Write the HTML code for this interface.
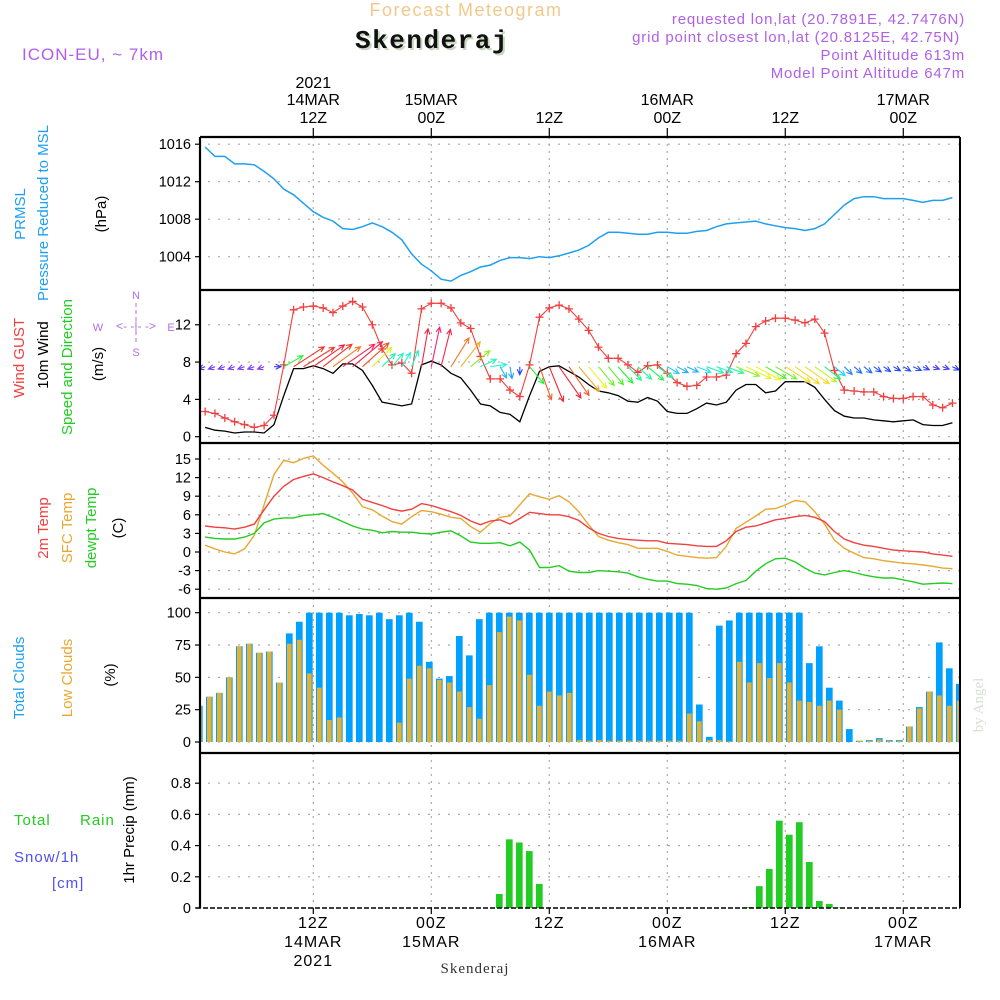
<!DOCTYPE html>
<html><head><meta charset="utf-8"><title>Forecast Meteogram Skenderaj</title>
<style>
html,body{margin:0;padding:0;background:#fff;}
svg{display:block;font-family:"Liberation Sans",sans-serif;}
</style></head>
<body>
<svg id="chart" width="1000" height="1000" viewBox="0 0 1000 1000" xmlns="http://www.w3.org/2000/svg">
<defs>
<clipPath id="plotclip"><rect x="201" y="137" width="758" height="773"/></clipPath>
</defs>
<text x="466" y="16" text-anchor="middle" font-size="18" fill="#f2c98a" letter-spacing="1.5">Forecast Meteogram</text>
<text x="434" y="50" text-anchor="middle" font-size="26" font-weight="bold" font-family="Liberation Mono, monospace" letter-spacing="1.5" fill="#c8d8c0">Skenderaj</text>
<text x="432" y="48" text-anchor="middle" font-size="26" font-weight="bold" font-family="Liberation Mono, monospace" letter-spacing="1.5" fill="#111">Skenderaj</text>
<text x="22" y="60" font-size="17" fill="#b060e8" letter-spacing="1">ICON-EU, ~ 7km</text>
<g font-size="15" fill="#b060e8" text-anchor="end" letter-spacing="0.8">
<text x="965" y="24">requested lon,lat (20.7891E, 42.7476N)</text>
<text x="960" y="42">grid point closest lon,lat (20.8125E, 42.75N)</text>
<text x="965" y="60">Point Altitude 613m</text>
<text x="965" y="78">Model Point Altitude 647m</text>
</g>
<g font-size="15">
<text transform="translate(25,214) rotate(-90)" text-anchor="middle" fill="#1ea0f0">PRMSL</text>
<text transform="translate(48,213) rotate(-90)" text-anchor="middle" fill="#1ea0f0">Pressure Reduced to MSL</text>
<text transform="translate(106,214) rotate(-90)" text-anchor="middle" fill="#000">(hPa)</text>
<text transform="translate(24,358) rotate(-90)" text-anchor="middle" fill="#f04040">Wind GUST</text>
<text transform="translate(48,355) rotate(-90)" text-anchor="middle" fill="#000">10m Wind</text>
<text transform="translate(72,367) rotate(-90)" text-anchor="middle" fill="#22cc22">Speed and Direction</text>
<text transform="translate(103,364) rotate(-90)" text-anchor="middle" fill="#000">(m/s)</text>
<text transform="translate(48,528) rotate(-90)" text-anchor="middle" fill="#f04040">2m Temp</text>
<text transform="translate(72,528) rotate(-90)" text-anchor="middle" fill="#e8a830">SFC Temp</text>
<text transform="translate(96,528) rotate(-90)" text-anchor="middle" fill="#22cc22">dewpt Temp</text>
<text transform="translate(123,528) rotate(-90)" text-anchor="middle" fill="#000">(C)</text>
<text transform="translate(24,678) rotate(-90)" text-anchor="middle" fill="#1ea0f0">Total Clouds</text>
<text transform="translate(72,678) rotate(-90)" text-anchor="middle" fill="#e8a830">Low Clouds</text>
<text transform="translate(115,675) rotate(-90)" text-anchor="middle" fill="#000">(%)</text>
<text transform="translate(134,830) rotate(-90)" text-anchor="middle" fill="#000">1hr Precip (mm)</text>
<text x="14" y="825" fill="#22cc22" letter-spacing="1">Total</text>
<text x="80" y="825" fill="#22cc22" letter-spacing="1">Rain</text>
<text x="14" y="862" fill="#5050f0" letter-spacing="1">Snow/1h</text>
<text x="52" y="888" fill="#5050f0" letter-spacing="1">[cm]</text>
</g>
<g fill="#b070e0" stroke="none" font-size="11">
<text x="136" y="299" text-anchor="middle">N</text>
<text x="136" y="356" text-anchor="middle">S</text>
<text x="98" y="331" text-anchor="middle">W</text>
<text x="171" y="331" text-anchor="middle">E</text>
<text x="136" y="330" text-anchor="middle" font-size="12">&lt;- -|- -&gt;</text>
<line x1="136" y1="303" x2="136" y2="345" stroke="#b070e0" stroke-dasharray="4,3"/>
</g>
<text transform="translate(983,705) rotate(-90)" text-anchor="middle" font-size="15" font-family="Liberation Serif, serif" fill="#d8e0d4">by Angel</text>
<text x="475" y="973" text-anchor="middle" font-size="15" font-family="Liberation Serif, serif" fill="#333" letter-spacing="1">Skenderaj</text>
<g id="layer"></g>
</svg>
<script>
// ---- data (hourly, h = hours since 00Z 14MAR) ----
var lineHours = [];
for (var i = 1; i <= 77; i++) lineHours.push(i);
var pressure = [1015.7,1014.7,1014.7,1013.9,1013.9,1013.8,1013.1,1012.3,1011.2,1010.6,1009.7,1008.8,1008.2,1007.8,1007.0,1006.9,1007.2,1007.6,1007.2,1006.6,1005.8,1004.3,1003.2,1002.5,1001.6,1001.4,1002.0,1002.4,1002.9,1003.1,1003.6,1003.9,1003.9,1003.8,1004.0,1003.9,1004.1,1004.4,1004.7,1005.2,1006.0,1006.6,1006.6,1006.5,1006.4,1006.4,1006.6,1006.6,1006.5,1006.5,1006.7,1006.8,1007.2,1007.5,1007.6,1007.7,1007.8,1007.5,1007.3,1007.1,1007.0,1006.8,1007.0,1007.5,1008.5,1009.5,1010.2,1010.4,1010.4,1010.2,1010.2,1010.2,1010.0,1009.8,1010.0,1010.0,1010.3];
var gust = [2.7,2.5,2.0,1.6,1.3,1.0,1.2,2.3,7.7,13.6,13.9,14.0,13.8,13.3,14.0,14.5,13.9,12.0,9.4,7.7,7.9,6.8,13.7,14.3,14.3,13.8,12.2,11.6,8.6,6.2,6.2,5.0,4.3,7.7,12.8,13.8,14.1,13.7,12.6,11.4,9.6,8.4,8.4,7.7,6.9,7.6,7.7,6.8,5.8,5.4,5.5,6.4,6.4,6.6,8.9,10.0,11.8,12.4,12.7,12.7,12.5,12.2,12.6,11.1,7.1,5.0,4.9,4.8,4.8,4.3,4.1,4.1,4.3,4.3,3.4,3.1,3.6];
var wind = [1.0,0.7,0.6,0.4,0.5,0.5,0.4,1.3,4.4,7.3,7.3,7.6,7.3,6.8,7.8,7.8,7.1,5.5,3.7,3.5,3.3,3.5,7.7,8.1,7.7,6.8,6.3,5.0,3.5,3.3,2.6,2.4,1.6,4.4,7.0,7.5,7.6,7.0,6.4,5.6,4.9,4.7,4.4,3.8,3.7,4.2,3.8,2.7,2.5,2.5,3.0,3.6,3.4,3.7,5.0,5.6,5.6,4.7,4.9,5.9,5.9,5.9,5.3,4.0,2.8,2.2,2.0,2.0,1.8,1.7,1.6,1.7,1.8,1.3,1.2,1.2,1.5];
var windArrowAngle = [200,200,200,200,200,200,200,0,30,33,32,35,38,36,35,40,42,45,45,50,58,68,80,78,76,58,52,40,25,8,-60,-80,-90,-50,-70,-68,-55,-55,-50,-50,-50,-50,-48,-45,-42,-40,-35,-30,-28,-25,-22,-20,-20,-20,-22,-25,-28,-30,-30,-32,-35,-35,-35,-38,-40,-45,-40,-38,-35,-35,-30,-30,-25,-25,-20,-20,-25];
var temp2m = [4.2,4.0,3.9,3.7,4.0,4.5,6.8,9.0,10.6,11.7,12.2,12.6,12.0,11.3,10.7,10.0,8.5,8.0,7.5,6.9,6.6,6.9,7.8,7.5,7.0,6.5,5.9,5.0,4.4,5.0,5.2,4.5,5.4,6.4,6.2,6.0,6.0,5.7,5.1,3.9,3.0,2.5,2.2,2.0,1.9,1.8,1.8,1.4,1.3,1.2,1.0,0.9,0.9,1.8,3.3,4.0,4.2,4.7,5.2,5.4,5.7,5.9,5.6,4.9,3.3,2.1,1.5,1.1,0.9,0.6,0.3,0.2,0.1,0.0,-0.3,-0.5,-0.7];
var tempSfc = [1.1,0.5,0.0,-0.3,0.5,2.7,7.6,12.5,14.8,14.4,15.1,15.5,14.0,12.7,11.3,9.5,7.3,6.8,5.8,4.9,4.5,5.7,6.7,6.5,6.1,5.6,5.4,4.1,3.2,4.6,5.6,5.8,7.6,9.4,8.9,8.5,9.1,8.1,6.5,4.4,2.5,1.9,1.5,1.2,0.6,0.6,0.6,0.1,-0.5,-0.7,-0.9,-1.0,-0.9,0.9,3.8,4.8,5.8,6.9,7.0,7.6,8.3,8.1,6.5,4.5,1.9,0.6,-0.2,-0.9,-1.1,-1.4,-1.6,-1.8,-1.9,-2.1,-2.3,-2.6,-2.7];
var dewpoint = [2.4,2.2,2.1,2.1,2.4,3.0,4.7,5.3,5.5,5.5,5.9,6.0,6.2,5.6,4.9,4.2,3.7,3.5,3.1,3.3,3.2,3.2,3.0,2.9,3.2,3.4,2.6,1.6,1.4,1.4,1.5,1.0,1.6,0.3,-2.5,-2.5,-2.2,-3.1,-3.3,-3.3,-3.0,-3.1,-3.2,-3.4,-4.0,-4.4,-4.7,-4.7,-5.1,-5.2,-5.4,-5.9,-6.0,-5.8,-5.1,-4.6,-3.1,-1.9,-1.1,-1.0,-1.6,-2.6,-3.4,-3.7,-3.3,-3.0,-3.3,-3.7,-4.0,-4.2,-4.2,-4.5,-4.8,-5.2,-5.1,-5.0,-5.1];
var cloudHours = [];
for (var j = 0; j <= 76; j++) cloudHours.push(j);
var totalClouds = [28,35,38,50,74,76,69,70,46,84,93,100,100,100,100,98,99,98,100,95,98,100,93,62,49,51,82,67,95,100,100,100,100,100,100,100,100,100,100,100,100,100,100,100,100,100,100,100,100,100,29,4,90,94,100,100,100,100,100,100,100,61,74,42,32,10,1,1.5,3,1.5,1.5,12,27,39,77,57,45];
var lowClouds = [28,35,38,50,74,76,69,70,46,76,79,53,42,17,19,0,0,0,0,0,15,49,59,57,48,46,39,27,18,44,85,97,94,52,28,39,36,38,1.5,1,1.5,1,1,1,1,1,1,1,1,22,16,1.5,1.5,0.5,62,46,61,49.5,61,46,32,31,28,32,25,0,1,1,2,1,1,12,26,39,36,28,32];
var rainHours = [30,31,32,33,34,55,56,57,58,59,60,61,62,63,64];
var rainValues = [0.09,0.44,0.42,0.365,0.154,0.006,0.14,0.25,0.56,0.47,0.55,0.295,0.045,0.026,0.003];
var pressureTicks = [1004,1008,1012,1016];
var windTicks = [0,4,8,12];
var tempTicks = [-6,-3,0,3,6,9,12,15];
var cloudTicks = [0,25,50,75,100];
var rainTicks = [0,0.2,0.4,0.6,0.8];
var timeTickHours = [12,24,36,48,60,72];
var topTimeLabels = [["2021","14MAR","12Z"],["","15MAR","00Z"],["","","12Z"],["","16MAR","00Z"],["","","12Z"],["","17MAR","00Z"]];
var bottomTimeLabels = [["12Z","14MAR","2021"],["00Z","15MAR",""],["12Z","",""],["00Z","16MAR",""],["12Z","",""],["00Z","17MAR",""]];

// ---- axis functions ----
function xL(h){ return 313.3 + (h - 12) * 9.833; }
function xB(h){ return 209.3 + (h - 1) * 10; }
function yP(p){ return 256.7 - (p - 1004) * 9.375; }
function yW(v){ return 436.7 - v * 9.33; }
function yT(t){ return 552 - t * 6.2; }
function yC(c){ return 742 - c * 1.293; }
function yR(r){ return 908 - r * 156; }

var NS = "http://www.w3.org/2000/svg";
var layer = document.getElementById('layer');
function mk(tag, attrs, parent){
  var e = document.createElementNS(NS, tag);
  for (var k in attrs) e.setAttribute(k, attrs[k]);
  (parent || layer).appendChild(e);
  return e;
}
var PL = 200, PR = 960;
var panels = [
  {name:'pressure', top:137, bot:290, ticks:pressureTicks, y:yP},
  {name:'wind', top:290, bot:443, ticks:windTicks, y:yW},
  {name:'temperature', top:443, bot:598, ticks:tempTicks, y:yT},
  {name:'clouds', top:598, bot:753, ticks:cloudTicks, y:yC},
  {name:'precip', top:753, bot:908, ticks:rainTicks, y:yR}
];

panels.forEach(function(p){
  var g = mk('g', {});
  
  
  timeTickHours.forEach(function(h){
    var vl = mk('line', {x1:xL(h), x2:xL(h), y1:p.top, y2:p.bot, stroke:'#aaa', 'stroke-width':1.2, 'stroke-dasharray':'2,5'}, g);
    
    
  });
  p.ticks.forEach(function(t){
    var yy = p.y(t);
    if (!(p.name==='precip' && t===0)) {
      var hl = mk('line', {x1:PL+8, x2:PR, y1:yy, y2:yy, stroke:'#aaa', 'stroke-width':1.2, 'stroke-dasharray':'2,8'}, g);
      
      
    }
    var tk = mk('line', {x1:PL-5, x2:PL, y1:yy, y2:yy, stroke:'#000', 'stroke-width':1.2}, g);
    
    
    var lb = mk('text', {x:PL-9, y:yy+5, 'text-anchor':'end', 'font-size':14.5, fill:'#000'}, g);
    
    
    lb.textContent = String(t);
  });
});

var plot = mk('g', {'clip-path':'url(#plotclip)'});



function polyline(vals, yf, color, name, w){
  var pts = vals.map(function(v, i){ return xL(lineHours[i]).toFixed(1) + ',' + yf(v).toFixed(1); }).join(' ');
  var e = mk('polyline', {points:pts, fill:'none', stroke:color, 'stroke-width':w || 1.3}, plot);
  
  
  return e;
}

polyline(pressure, yP, '#1ea0f0', 'pressure-line', 1.5);
polyline(wind, yW, '#000', 'wind-speed-line', 1.3);
polyline(gust, yW, '#f04040', 'gust-line', 1.1);
var gg = mk('g', {stroke:'#f04040', 'stroke-width':1.3}, plot);


gust.forEach(function(v, i){
  var cx = xL(lineHours[i]), cy = yW(v);
  var m = mk('path', {d:'M'+(cx-4)+','+cy+'h8M'+cx+','+(cy-4)+'v8', fill:'none'}, gg);
  
  
});

var hueStops = [[0,275],[1.5,235],[2.5,200],[3.5,165],[4.5,120],[5.2,80],[5.8,55],[6.6,32],[7.4,0],[8.5,-35]];
function speedHue(s){
  if (s <= hueStops[0][0]) return hueStops[0][1];
  for (var k = 1; k < hueStops.length; k++){
    if (s <= hueStops[k][0]){
      var a = hueStops[k-1], b = hueStops[k];
      return a[1] + (b[1]-a[1]) * (s-a[0])/(b[0]-a[0]);
    }
  }
  return hueStops[hueStops.length-1][1];
}
var ag = mk('g', {'stroke-width':1.1, fill:'none'}, plot);


wind.forEach(function(s, i){
  var x0 = xL(lineHours[i]), y0 = yW(7.5);
  var ang = windArrowAngle[i] * Math.PI / 180;
  var len = Math.max(7, s * 5);
  var x1 = x0 + Math.cos(ang) * len, y1 = y0 - Math.sin(ang) * len;
  var hh = ((speedHue(s) % 360) + 360) % 360;
  var col = 'hsl(' + hh.toFixed(0) + ',90%,' + (s < 1.5 ? 60 : 55) + '%)';
  var a1 = ang + Math.PI - 0.45, a2 = ang + Math.PI + 0.45, hl = 6;
  var d = 'M' + x0.toFixed(1) + ',' + y0.toFixed(1) + 'L' + x1.toFixed(1) + ',' + y1.toFixed(1) +
    'M' + (x1 + Math.cos(a1)*hl).toFixed(1) + ',' + (y1 - Math.sin(a1)*hl).toFixed(1) + 'L' + x1.toFixed(1) + ',' + y1.toFixed(1) +
    'L' + (x1 + Math.cos(a2)*hl).toFixed(1) + ',' + (y1 - Math.sin(a2)*hl).toFixed(1);
  var e = mk('path', {d:d, stroke:col}, ag);
  
  
});

polyline(tempSfc, yT, '#e8a830', 'sfc-temp-line', 1.4);
polyline(temp2m, yT, '#f04040', '2m-temp-line', 1.4);
polyline(dewpoint, yT, '#22cc22', 'dewpoint-line', 1.4);

var cg = mk('g', {}, plot);


cloudHours.forEach(function(h, i){
  var cx = xB(h);
  var tb = mk('rect', {x:(cx-3.35).toFixed(2), y:yC(totalClouds[i]).toFixed(2), width:6.7, height:(yC(0)-yC(totalClouds[i])).toFixed(2), fill:'#00a0ff'}, cg);
  
  
  var lb = mk('rect', {x:(cx-2.3).toFixed(2), y:yC(lowClouds[i]).toFixed(2), width:4.6, height:(yC(0)-yC(lowClouds[i])).toFixed(2), fill:'#e8b030'}, cg);
  
  
});

var rg = mk('g', {}, plot);


rainHours.forEach(function(h, i){
  var cx = xB(h);
  var r = mk('rect', {x:(cx-3.35).toFixed(2), y:yR(rainValues[i]).toFixed(2), width:6.7, height:(yR(0)-yR(rainValues[i])).toFixed(2), fill:'#22cc22'}, rg);
  
  
});

var fg = mk('g', {stroke:'#000', fill:'none'});


mk('line', {x1:PL, x2:PL, y1:137, y2:908, 'stroke-width':2.2}, fg);
mk('line', {x1:PR, x2:PR, y1:137, y2:908, 'stroke-width':2}, fg);
[137,290,443,598,753].forEach(function(y){
  var l = mk('line', {x1:PL, x2:PR, y1:y, y2:y, 'stroke-width':2.2}, fg);
  
  
});
var base = mk('line', {x1:196, x2:PR, y1:908, y2:908, 'stroke-width':1.6, 'stroke-dasharray':'5,2'}, fg);



var tg = mk('g', {'font-size':16, fill:'#000', 'text-anchor':'middle'});


timeTickHours.forEach(function(h, i){
  var x = xL(h);
  mk('line', {x1:x, x2:x, y1:128, y2:137, stroke:'#000', 'stroke-width':1.2}, tg);
  mk('line', {x1:x, x2:x, y1:908, y2:914, stroke:'#000', 'stroke-width':1.2}, tg);
  var top = topTimeLabels[i];
  [88,105,123].forEach(function(yy, k){
    if (top[k]){
      var t = mk('text', {x:x, y:yy}, tg);
      
      
      t.textContent = top[k];
    }
  });
  var bot = bottomTimeLabels[i];
  [928,947,966].forEach(function(yy, k){
    if (bot[k]){
      var t = mk('text', {x:x, y:yy, 'letter-spacing':1}, tg);
      
      
      t.textContent = bot[k];
    }
  });
});
</script>
</body></html>
